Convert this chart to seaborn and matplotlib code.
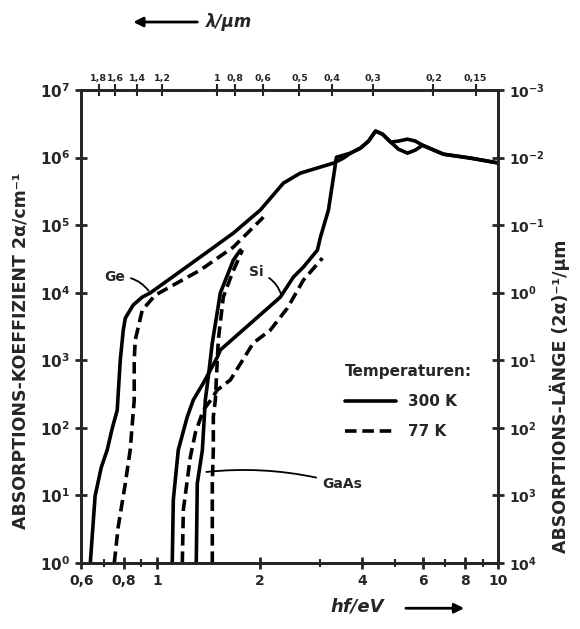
import numpy as np
import pandas as pd
import seaborn as sns
import matplotlib.pyplot as plt
from matplotlib.lines import Line2D

# photon energy hf/eV and absorption coefficient 2alpha/cm^-1
ge_300_ev = [0.638, 0.659, 0.687, 0.715, 0.740, 0.765, 0.781, 0.797, 0.808, 0.852, 0.906, 0.956,
             1.340, 1.675, 2.009, 2.347, 2.632, 3.290, 3.520, 3.69, 3.95, 4.17, 4.37, 4.58, 4.84,
             5.10, 5.42, 5.72, 6.00, 6.91, 8.30, 10.0]
ge_300_a = [1, 9.8, 26, 47, 99, 182, 1010, 2800, 4200, 6560, 8600, 9900,
            3.37e4, 7.62e4, 1.67e5, 4.18e5, 5.88e5, 8.26e5, 9.8e5, 1.16e6, 1.38e6, 1.75e6, 2.46e6, 2.22e6, 1.69e6,
            1.75e6, 1.87e6, 1.75e6, 1.52e6, 1.12e6, 9.8e5, 8.3e5]

ge_77_ev = [0.750, 0.770, 0.808, 0.835, 0.858, 0.858, 0.864, 0.906, 0.989, 1.340, 1.675, 2.051]
ge_77_a = [1, 3.4, 15, 47, 258, 1010, 1990, 5540, 9200, 2.16e4, 4.73e4, 1.31e5]

si_300_ev = [1.109, 1.117, 1.155, 1.227, 1.278, 1.368, 1.503, 1.534, 2.300, 2.511, 2.686, 2.953,
             3.013, 3.181, 3.290, 3.357, 3.69, 3.95, 4.17, 4.37, 4.58, 4.84, 5.10, 5.42, 5.72,
             6.00, 6.91, 8.30, 10.0]
si_300_a = [1, 8.6, 47, 145, 258, 460, 1110, 1420, 8600, 1.70e4, 2.39e4, 4.27e4,
            6.6e4, 1.67e5, 5.1e5, 1.01e6, 1.16e6, 1.38e6, 1.75e6, 2.46e6, 2.22e6, 1.69e6, 1.33e6, 1.16e6, 1.29e6,
            1.52e6, 1.12e6, 9.8e5, 8.3e5]

si_77_ev = [1.187, 1.195, 1.253, 1.296, 1.368, 1.433, 1.503, 1.641, 1.916, 2.150, 2.411, 2.686, 3.054]
si_77_a = [1, 6.1, 37, 84, 183, 251, 363, 510, 1800, 2800, 5900, 1.53e4, 3.25e4]

gaas_300_ev = [1.304, 1.313, 1.359, 1.368, 1.386, 1.414, 1.453, 1.534, 1.675, 1.756]
gaas_300_a = [1, 15, 47, 84, 258, 563, 1800, 9900, 3.04e4, 4.27e4]

gaas_77_ev = [1.453, 1.453, 1.463, 1.463, 1.483, 1.503, 1.513, 1.565, 1.663, 1.780]
gaas_77_a = [1, 15, 47, 145, 258, 1010, 2000, 8600, 1.95e4, 4.27e4]

# axis ticks
x_ticks = [0.6, 0.8, 1, 2, 4, 6, 8, 10]
x_labels = ['0,6', '0,8', '1', '2', '4', '6', '8', '10']
x_minor = [0.7, 0.9, 3, 5, 7, 9]
# wavelength ticks on top, placed where they are drawn (in eV)
lam_pos_ev = [0.675, 0.755, 0.875, 1.037, 1.503, 1.697, 2.051, 2.615, 3.267, 4.282, 6.46, 8.58]
lam_labels = ['1,8', '1,6', '1,4', '1,2', '1', '0,8', '0,6', '0,5', '0,4', '0,3', '0,2', '0,15']
len_ticks = [1e-3, 1e-2, 1e-1, 1e0, 1e1, 1e2, 1e3, 1e4]
len_labels = ['$10^{-3}$', '$10^{-2}$', '$10^{-1}$', '$10^{0}$', '$10^{1}$', '$10^{2}$', '$10^{3}$', '$10^{4}$']

curves = [('Ge', '300 K', ge_300_ev, ge_300_a), ('Ge77', '77 K', ge_77_ev, ge_77_a),
          ('Si', '300 K', si_300_ev, si_300_a), ('Si77', '77 K', si_77_ev, si_77_a),
          ('GaAs', '300 K', gaas_300_ev, gaas_300_a), ('GaAs77', '77 K', gaas_77_ev, gaas_77_a)]
df = pd.concat([pd.DataFrame({'hf': e, 'alpha': a, 'curve': c, 'temp': t}) for c, t, e, a in curves],
               ignore_index=True)

sns.set_style('ticks')
plt.rcParams['font.family'] = ['DejaVu Sans']
plt.rcParams['font.weight'] = 'bold'
plt.rcParams['mathtext.default'] = 'bf'

fig = plt.figure(figsize=(5.8, 6.29), dpi=100)
ax = fig.add_axes([0.14, 0.105, 0.719, 0.752])
sns.lineplot(data=df, x='hf', y='alpha', units='curve', estimator=None, sort=False,
             style='temp', dashes={'300 K': '', '77 K': (3.2, 1.6)}, color='black',
             lw=2.6, legend=False, ax=ax)
ax.set_xscale('log')
ax.set_yscale('log')
ax.set_xlim(0.6, 10)
ax.set_ylim(1, 1e7)
ax.set_xlabel('')
ax.set_ylabel('')

for s in ax.spines.values():
    s.set_linewidth(2)
ax.set_xticks(x_ticks)
ax.set_xticklabels(x_labels, fontsize=10, fontweight='bold')
ax.set_xticks(x_minor, minor=True)
ax.set_yticks([10.0 ** k for k in range(8)])
ax.set_yticklabels(['$10^{%d}$' % k for k in range(8)], fontsize=11)
ax.yaxis.set_minor_locator(plt.NullLocator())
ax.tick_params(axis='both', which='major', direction='inout', length=9, width=2)
ax.tick_params(axis='x', which='minor', direction='inout', length=6, width=1.5)

top = ax.twiny()
top.set_xscale('log')
top.set_xlim(ax.get_xlim())
top.set_xticks(lam_pos_ev)
top.set_xticklabels(lam_labels, fontsize=6.8, fontweight='bold')
top.xaxis.set_minor_locator(plt.NullLocator())
top.tick_params(axis='x', direction='inout', length=8, width=1.5, pad=1)
for s in top.spines.values():
    s.set_linewidth(2)

right = ax.secondary_yaxis('right', functions=(lambda a: 1e4 / a, lambda l: 1e4 / l))
right.set_yticks(len_ticks)
right.set_yticklabels(len_labels, fontsize=10)
right.yaxis.set_minor_locator(plt.NullLocator())
right.tick_params(axis='y', direction='inout', length=9, width=2)

fig.text(0.036, 0.443, 'ABSORPTIONS-KOEFFIZIENT 2α/cm⁻¹', rotation=90, ha='center', va='center',
         fontsize=12.5, fontweight='bold')
fig.text(0.966, 0.37, 'ABSORPTIONS-LÄNGE (2α)⁻¹/μm', rotation=90, ha='center', va='center',
         fontsize=12.5, fontweight='bold')

fig.text(0.355, 0.965, 'λ/μm', ha='left', va='center', fontsize=12, style='italic')
ax.annotate('', xy=(0.225, 0.965), xytext=(0.345, 0.965), xycoords='figure fraction',
            arrowprops=dict(arrowstyle='-|>', lw=2, color='k', mutation_scale=14))
fig.text(0.57, 0.035, 'hf/eV', ha='left', va='center', fontsize=13, style='italic')
ax.annotate('', xy=(0.805, 0.033), xytext=(0.695, 0.033), xycoords='figure fraction',
            arrowprops=dict(arrowstyle='-|>', lw=2, color='k', mutation_scale=14))

lbl = dict(fontsize=10, fontweight='bold', va='center')
ax.annotate('Ge', xy=(0.956, 9900), xytext=(0.70, 1.7e4),
            arrowprops=dict(arrowstyle='-', lw=1.3, color='k', connectionstyle='arc3,rad=-0.3'), **lbl)
ax.annotate('Si', xy=(2.33, 8300), xytext=(1.86, 2.0e4),
            arrowprops=dict(arrowstyle='-', lw=1.3, color='k', connectionstyle='arc3,rad=-0.3'), **lbl)
ax.annotate('GaAs', xy=(1.37, 22), xytext=(3.05, 14.7),
            arrowprops=dict(arrowstyle='-', lw=1.3, color='k', connectionstyle='arc3,rad=0.1'), **lbl)

handles = [Line2D([], [], color='k', lw=2.6), Line2D([], [], color='k', lw=2.6, ls=(0, (3.2, 1.6)))]
leg = ax.legend(handles, ['300 K', '77 K'], title='Temperaturen:', loc='upper left',
                bbox_to_anchor=(0.60, 0.45), frameon=False, handlelength=3.3, fontsize=11,
                title_fontsize=11, alignment='left', labelspacing=1.0)

fig.savefig('out.png', dpi=100)
